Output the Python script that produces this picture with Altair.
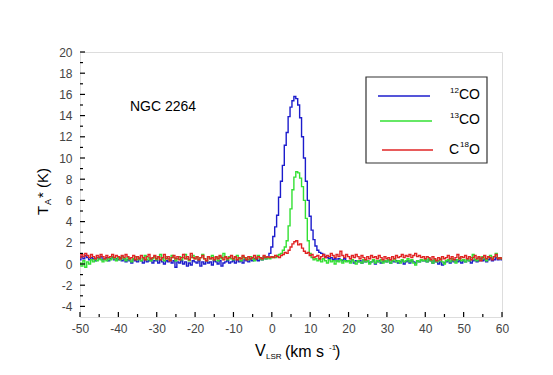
import altair as alt
import pandas as pd

# channel velocities (km/s), 0.5 km/s channels from -50 to 60
v_start, v_step, n_chan = -50.0, 0.5, 221
velocity = [v_start + i * v_step for i in range(n_chan)]

co12 = [
    0.4, 0.7, 0.5, 0.8, 0.6, 0.4, 0.6, 0.5, 0.3, 0.6, 0.5, 0.7, 0.4, 0.5, 0.6, 0.3, 0.5, 0.6, 0.4, 0.5,
    0.4, 0.6, 0.3, 0.5, 0.2, 0.4, 0.3, 0.1, 0.4, 0.3, 0.2, 0.5, 0.3, 0.1, 0.4, 0.2, 0.3, 0.4, 0.1, 0.3,
    0.3, 0.1, 0.4, 0.2, 0.0, 0.3, 0.2, 0.4, 0.1, 0.3, -0.3, 0.2, 0.1, 0.3, 0.0, 0.2, -0.2, 0.1, -0.1, 0.3,
    0.2, 0.1, 0.3, -0.2, 0.2, 0.0, 0.3, 0.1, 0.2, -0.1, 0.3, 0.2, 0.0, 0.3, -0.2, 0.1, 0.2, 0.3, 0.1, 0.2,
    0.3, 0.1, 0.4, 0.2, 0.3, 0.1, 0.4, 0.3, 0.2, 0.4, 0.3, 0.5, 0.4, 0.3, 0.5, 0.4, 0.6, 0.5, 0.7, 1.0,
    1.6, 2.6, 3.5, 4.6, 6.3, 7.8, 9.3, 11.2, 12.4, 13.9, 14.8, 15.4, 15.8, 15.6, 15.0, 13.8, 12.0, 10.0, 7.8, 6.0,
    4.5, 3.2, 2.3, 1.7, 1.3, 1.1, 1.0, 0.9, 0.7, 0.6, 0.5, 0.6, 0.4, 0.5, 0.3, 0.5, 0.4, 0.3, 0.5, 0.3,
    0.3, 0.2, 0.4, 0.1, 0.3, 0.2, 0.3, 0.1, 0.4, 0.2, 0.3, 0.1, 0.2, 0.3, 0.0, 0.2, 0.3, 0.1, 0.2, 0.3,
    0.2, 0.4, 0.1, 0.3, 0.2, 0.3, 0.1, 0.2, 0.3, 0.0, 0.2, 0.3, 0.1, 0.3, 0.2, 0.1, 0.3, 0.2, 0.4, 0.3,
    0.3, 0.2, 0.4, 0.3, 0.1, 0.3, 0.2, 0.0, 0.2, -0.1, 0.1, 0.2, 0.3, 0.1, 0.3, 0.2, 0.4, 0.2, 0.3, 0.1,
    0.3, 0.2, 0.4, 0.3, 0.1, 0.3, 0.4, 0.2, 0.3, 0.5, 0.3, 0.4, 0.2, 0.4, 0.5, 0.3, 0.4, 0.6, 0.4, 0.5,
    0.4,
]

co13 = [
    0.1, -0.2, 0.3, -0.3, 0.2, 0.0, 0.4, 0.2, 0.5, 0.3, 0.6, 0.4, 0.2, 0.5, 0.3, 0.6, 0.4, 0.7, 0.5, 0.3,
    0.6, 0.4, 0.7, 0.5, 0.3, 0.6, 0.4, 0.2, 0.5, 0.7, 0.4, 0.6, 0.3, 0.5, 0.8, 0.4, 0.6, 0.3, 0.5, 0.7,
    0.4, 0.6, 0.9, 0.5, 0.3, 0.7, 0.5, 0.4, 0.8, 0.6, 0.3, 0.5, 0.7, 0.4, 0.6, 0.9, 0.5, 0.3, 0.6, 0.8,
    0.5, 0.7, 0.4, 0.6, 0.9, 0.5, 0.3, 0.7, 0.5, 0.8, 0.4, 0.6, 0.3, 0.7, 0.5, 1.0, 0.6, 0.4, 0.7, 0.5,
    0.4, 0.6, 0.8, 0.5, 0.3, 0.7, 0.5, 0.6, 0.4, 0.7, 0.5, 0.3, 0.6, 0.8, 0.5, 0.4, 0.7, 0.5, 0.6, 0.5,
    0.6, 0.7, 0.6, 0.8, 0.9, 1.0, 1.3, 1.6, 2.2, 3.6, 5.2, 7.0, 8.2, 8.7, 8.6, 8.1, 7.3, 6.0, 4.3, 2.2,
    1.0, 0.6, 0.4, 0.5, 0.3, 0.4, 0.2, 0.5, 0.3, 0.1, 0.4, 0.2, 0.3, 0.0, 0.3, 0.2, 0.4, 0.1, 0.3, 0.2,
    0.3, 0.1, 0.4, 0.2, 0.0, 0.3, 0.2, 0.1, 0.4, 0.2, 0.3, 0.0, 0.2, 0.4, 0.1, 0.3, 0.2, 0.4, 0.1, 0.3,
    0.2, 0.4, 0.1, 0.3, 0.5, 0.2, 0.3, 0.1, 0.4, 0.2, 0.3, 0.5, 0.2, 0.4, 0.1, -0.1, 0.3, 0.2, 0.4, 0.3,
    0.4, 0.2, 0.5, 0.3, 0.1, 0.4, 0.2, 0.3, 0.5, 0.2, 0.0, 0.3, 0.4, 0.2, 0.5, 0.3, 0.1, 0.4, 0.6, 0.3,
    0.4, 0.2, 0.5, 0.3, 0.6, 0.9, 0.4, 0.3, 0.6, 0.4, 0.7, 0.5, 0.3, 0.6, 0.8, 0.5, 0.7, 1.0, 0.6, 0.5,
    0.6,
]

c18o = [
    0.6, 0.9, 0.7, 1.0, 0.8, 0.6, 0.9, 0.7, 0.5, 0.8, 0.6, 0.9, 0.7, 0.5, 0.8, 0.6, 0.7, 0.9, 0.6, 0.8,
    0.7, 0.5, 0.8, 0.6, 0.9, 0.7, 0.5, 0.6, 0.8, 0.4, 0.7, 0.5, 0.8, 0.6, 0.4, 0.7, 0.9, 0.5, 0.6, 0.8,
    0.5, 0.7, 0.4, 0.6, 0.9, 0.5, 0.7, 0.3, 0.6, 0.8, 0.5, 0.7, 0.4, 0.6, 0.9, 0.5, 0.7, 0.4, 1.0, 0.6,
    0.5, 0.7, 0.4, 0.6, 0.8, 0.5, 0.3, 0.7, 0.5, 0.6, 0.4, 0.7, 0.5, 0.8, 0.6, 0.4, 0.7, 0.5, 0.6, 0.8,
    0.5, 0.7, 0.4, 0.6, 0.5, 0.8, 0.6, 0.4, 0.7, 0.5, 0.6, 0.8, 0.5, 0.7, 0.6, 0.5, 0.8, 0.6, 0.7, 0.6,
    0.7, 0.6, 0.8, 0.7, 0.6, 0.8, 0.9, 1.1, 1.0, 1.3, 1.6, 1.9, 2.1, 2.2, 1.8, 1.9, 1.5, 1.2, 1.0, 1.1,
    0.8, 0.9, 0.6, 0.7, 0.8, 0.5, 0.7, 0.9, 0.6, 0.8, 0.7, 1.0, 0.8, 0.6, 0.9, 0.7, 1.2, 0.8, 0.6, 0.9,
    0.7, 0.5, 0.8, 0.6, 0.9, 0.7, 0.5, 0.8, 0.6, 0.4, 0.7, 0.5, 0.8, 0.6, 0.7, 0.5, 0.8, 0.6, 0.4, 0.7,
    0.5, 0.6, 0.4, 0.7, 0.5, 0.8, 0.6, 0.7, 0.9, 0.6, 0.8, 0.7, 0.9, 0.6, 0.8, 1.0, 0.7, 0.8, 0.6, 0.7,
    0.5, 0.7, 0.6, 0.4, 0.7, 0.5, 0.3, 0.6, 0.4, 0.7, 0.5, 0.6, 0.8, 0.5, 0.7, 0.4, 0.6, 0.9, 0.5, 0.7,
    0.6, 0.8, 0.5, 0.7, 0.4, 0.6, 0.8, 0.5, 0.7, 0.3, 0.6, 0.8, 0.5, 0.7, 0.6, 0.4, 0.7, 0.9, 0.5, 0.6,
    0.5,
]

series_names = ["12CO", "13CO", "C18O"]
series_colors = ["#1c1ccc", "#33e033", "#e02424"]

x_major = [-50, -40, -30, -20, -10, 0, 10, 20, 30, 40, 50, 60]
x_minor = [-45, -35, -25, -15, -5, 5, 15, 25, 35, 45, 55]
y_major = [-4, -2, 0, 2, 4, 6, 8, 10, 12, 14, 16, 18, 20]
y_minor = [-3, -1, 1, 3, 5, 7, 9, 11, 13, 15, 17, 19]

W, H = 422, 265
FONT = "Liberation Sans"

rows = []
for name, vals in zip(series_names, [co12, co13, c18o]):
    for v, t in zip(velocity, vals):
        rows.append({"v": v, "t": t, "s": name})
df = pd.DataFrame(rows)

xs = alt.Scale(domain=[-50, 60], nice=False, zero=False)
ys = alt.Scale(domain=[-5, 20], nice=False, zero=False)
x_axis = alt.Axis(values=x_major, ticks=False, domain=False, grid=False, title=None,
                  labelFlush=False, labelExpr="'' + datum.value",
                  labelFont=FONT, labelFontSize=12, labelColor="#444444", labelPadding=6)
y_axis = alt.Axis(values=y_major, ticks=False, domain=False, grid=False, title=None,
                  labelFlush=False, labelExpr="'' + datum.value",
                  labelFont=FONT, labelFontSize=12, labelColor="#444444", labelPadding=8)

lines = alt.Chart(df).mark_line(interpolate="step", strokeWidth=1.4).encode(
    x=alt.X("v:Q", scale=xs, axis=x_axis),
    y=alt.Y("t:Q", scale=ys, axis=y_axis),
    color=alt.Color("s:N", scale=alt.Scale(domain=series_names, range=series_colors), legend=None),
    order=alt.Order("v:Q"),
)

def xtick_layer(vals, length):
    return alt.Chart(pd.DataFrame({"v": vals})).mark_rule(color="black", strokeWidth=1.2).encode(
        x=alt.X("v:Q", scale=xs, axis=x_axis),
        y=alt.value(H), y2=alt.value(H - length))

def ytick_layer(vals, length):
    return alt.Chart(pd.DataFrame({"t": vals})).mark_rule(color="black", strokeWidth=1.2).encode(
        y=alt.Y("t:Q", scale=ys, axis=y_axis),
        x=alt.value(0), x2=alt.value(length))

def txt(text, x, y, size, angle=0, color="black"):
    return alt.Chart(pd.DataFrame({"a": [0]})).mark_text(
        text=text, font=FONT, fontSize=size, align="left", baseline="alphabetic",
        angle=angle, color=color).encode(x=alt.value(x), y=alt.value(y))

# legend box and swatches
legend_box = alt.Chart(pd.DataFrame({"a": [0]})).mark_rect(
    fill="white", stroke="#333333", strokeWidth=1.2).encode(
    x=alt.value(286), x2=alt.value(407), y=alt.value(25), y2=alt.value(111))

legend_y = [44, 69, 98]
legend_x = [(298, 350), (300, 352), (302, 353)]
swatches = [
    alt.Chart(pd.DataFrame({"a": [0]})).mark_rule(color=c, strokeWidth=1.6).encode(
        x=alt.value(x0), x2=alt.value(x1), y=alt.value(yy))
    for c, yy, (x0, x1) in zip(series_colors, legend_y, legend_x)
]

texts = [
    txt("NGC 2264", 50, 59, 14),
    # legend labels
    txt("12", 370, 41, 8), txt("CO", 379, 47, 14),
    txt("13", 370, 66, 8), txt("CO", 379, 72, 14),
    txt("C", 369, 102, 14), txt("18", 380, 95, 8), txt("O", 389, 102, 14),
    # x title
    txt("V", 175, 304, 16), txt("LSR", 186, 307, 8),
    txt("(km s", 205, 305, 16), txt("-1", 249, 298, 8), txt(")", 255, 305, 16),
    # y title (rotated)
    txt("T", -32, 163, 15, angle=270), txt("A", -29, 153, 9, angle=270),
    txt("* (K)", -32, 146, 15, angle=270),
]

chart = alt.layer(
    lines,
    xtick_layer(x_major, 5), xtick_layer(x_minor, 3),
    ytick_layer(y_major, 5), ytick_layer(y_minor, 3),
    legend_box, *swatches, *texts,
).properties(
    width=W, height=H,
    autosize=alt.AutoSizeParams(type="none"),
    padding={"left": 72, "top": 44, "right": 43, "bottom": 50},
).configure_view(stroke="black", strokeWidth=1.5).configure(background="white")

chart.save("out.html", embed_options={"renderer": "svg", "actions": False})
